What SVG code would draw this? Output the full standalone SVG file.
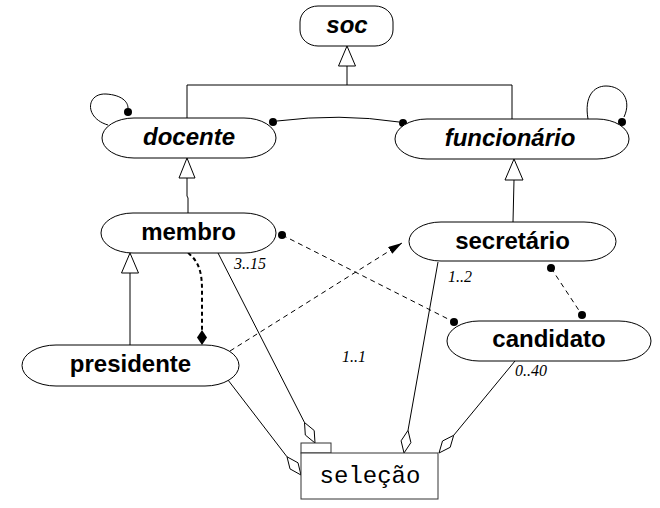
<svg xmlns="http://www.w3.org/2000/svg" width="660" height="508" viewBox="0 0 660 508">
<defs>
<style>
.node{fill:#fff;stroke:#000;stroke-width:1}
.nt{font-family:"Liberation Sans",Arial,sans-serif;font-weight:bold;font-size:24px;text-anchor:middle;fill:#000}
.it{font-style:italic}
.lbl{font-family:"Liberation Serif","Times New Roman",serif;font-style:italic;font-size:16px;fill:#000}
.ln{fill:none;stroke:#000;stroke-width:1}
.dash{fill:none;stroke:#000;stroke-width:1;stroke-dasharray:5,4}
.tdash{fill:none;stroke:#000;stroke-width:2;stroke-dasharray:4,3}
.tri{fill:#fff;stroke:#000;stroke-width:1}
.dot{fill:#000}
.hd{fill:#fff;stroke:#000;stroke-width:1}
.fd{fill:#000}
.mono{font-family:"Liberation Mono","Courier New",monospace;font-size:24px;text-anchor:middle;fill:#000}
</style>
<marker id="arr" viewBox="0 0 14 8" refX="14" refY="4" markerWidth="14" markerHeight="8" markerUnits="userSpaceOnUse" orient="auto">
<path d="M0,0 L14,4 L0,8 z" fill="#000"/>
</marker>
</defs>

<g id="connectors">
<!-- generalization soc -->
<polygon class="tri" points="347,46 355.5,66 338.5,66"/>
<path class="ln" d="M347,66 V85 M187,85 H512 M187,85 V118 M512,85 V119"/>
<!-- docente <- membro -->
<polygon class="tri" points="187,158 195,178 179,178"/>
<path class="ln" d="M187,178 V196 L188,198 V213"/>
<!-- funcionario <- secretario -->
<polygon class="tri" points="514,159 523,180 505,180"/>
<path class="ln" d="M514,180 L513,222"/>
<!-- membro <- presidente -->
<polygon class="tri" points="130,253 138.5,273 121.5,273"/>
<path class="ln" d="M130,273 V345"/>
<!-- self loops -->
<path class="ln" d="M108,125 C84,118 86,93 106,94 C122,95 128,102 128,108"/>
<circle class="dot" cx="128" cy="112" r="4"/>
<path class="ln" d="M588,119 C584,96 594,86 606,86 C622,86 632,100 624,117"/>
<circle class="dot" cx="622" cy="122" r="4"/>
<!-- docente - funcionario -->
<path class="ln" d="M277,121 Q340,113 399,122"/>
<circle class="dot" cx="273" cy="122" r="4"/>
<circle class="dot" cx="403" cy="123" r="4"/>
<!-- membro - candidato dashed -->
<path class="dash" d="M282,235 L454,322"/>
<circle class="dot" cx="282" cy="235" r="4"/>
<circle class="dot" cx="454" cy="322" r="4"/>
<!-- secretario - candidato dashed -->
<path class="dash" d="M551,268 L582,315"/>
<circle class="dot" cx="551" cy="268" r="4"/>
<circle class="dot" cx="582" cy="315" r="4"/>
<!-- presidente -> secretario -->
<path class="dash" d="M230,351 L402,243" marker-end="url(#arr)"/>
<!-- membro - presidente thick dashed with filled diamond -->
<path class="tdash" d="M188,253 C200,262 202,275 202,290 L202,330"/>
<polygon class="fd" points="202,330 207,337.5 202,345 197,337.5"/>
<!-- aggregations to selecao -->
<path class="ln" d="M218,253 L304.5,422.5"/>
<polygon class="hd" points="315,443 314.2,430.5 304.5,422.5 305.3,435"/>
<path class="ln" d="M228,380 L287,456.8"/>
<polygon class="hd" points="301,475 298,462.8 287,456.8 290,468.9"/>
<path class="ln" d="M438,262 L408,430.4"/>
<polygon class="hd" points="404,453 410.9,442.6 408,430.4 401.1,440.8"/>
<path class="ln" d="M515,361 L453.7,435.3"/>
<polygon class="hd" points="439,453 450.2,447.3 453.7,435.3 442.5,441"/>
</g>

<g id="soc">
<rect class="node" x="300" y="6" width="93" height="40" rx="18" ry="16"/>
<text class="nt it" x="347" y="33">soc</text>
</g>
<g id="docente">
<rect class="node" x="102" y="118" width="174" height="40" rx="32" ry="20"/>
<text class="nt it" x="189" y="145">docente</text>
</g>
<g id="funcionario">
<rect class="node" x="395" y="119" width="234" height="40" rx="32" ry="20"/>
<text class="nt it" x="510" y="146">funcionário</text>
</g>
<g id="membro">
<rect class="node" x="101" y="213" width="175" height="40" rx="32" ry="20"/>
<text class="nt" x="188.5" y="240">membro</text>
</g>
<g id="secretario">
<rect class="node" x="409" y="222" width="207" height="39" rx="32" ry="19.5"/>
<text class="nt" x="512.5" y="249">secretário</text>
</g>
<g id="presidente">
<rect class="node" x="22" y="345" width="217" height="41" rx="34" ry="20.5"/>
<text class="nt" x="130.5" y="372">presidente</text>
</g>
<g id="candidato">
<rect class="node" x="447" y="321" width="204" height="40" rx="32" ry="20"/>
<text class="nt" x="549" y="347">candidato</text>
</g>
<g id="selecao">
<rect fill="#fff" stroke="#333" stroke-width="1" x="301" y="443" width="30" height="10"/>
<rect fill="#fff" stroke="#333" stroke-width="1" x="301" y="453" width="137" height="46"/>
<text class="mono" x="370" y="483">seleção</text>
</g>

<g id="labels">
<text class="lbl" x="234" y="269">3..15</text>
<text class="lbl" x="448" y="282">1..2</text>
<text class="lbl" x="342" y="362">1..1</text>
<text class="lbl" x="515" y="376">0..40</text>
</g>
</svg>
